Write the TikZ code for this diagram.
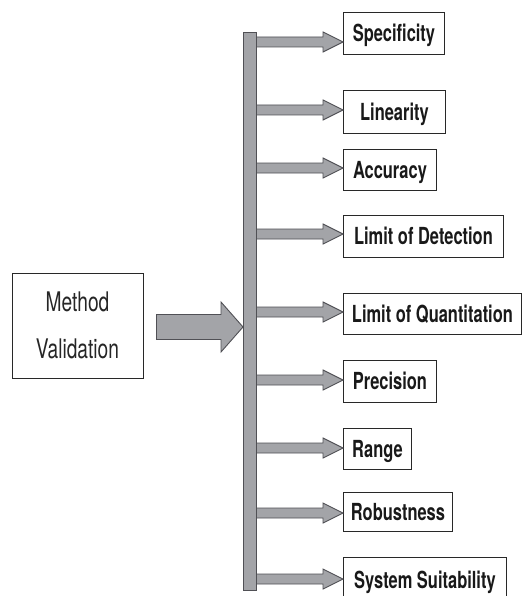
\documentclass[tikz,border=0pt]{standalone}
\usepackage{fontspec}
\setmainfont{TeX Gyre Heros}
\newfontfamily\condfont[FakeStretch=0.70]{TeX Gyre Heros}
\newfontfamily\condreg[FakeStretch=0.71]{TeX Gyre Heros}
\usetikzlibrary{calc}
\definecolor{arrfill}{RGB}{163,164,168}
\definecolor{arrline}{RGB}{80,80,85}
\definecolor{boxline}{RGB}{40,40,40}
\begin{document}
\begin{tikzpicture}[x=1pt,y=-1pt,
  itembox/.style={draw=boxline, line width=0.9pt, fill=white, anchor=north west,
    inner sep=0pt, text height=17pt, text depth=0pt,
    font=\condfont\bfseries\fontsize{23.5}{25}\selectfont, text=black!90},
  mainbox/.style={draw=boxline, line width=0.9pt, fill=white, inner sep=0pt,
    minimum width=131pt, minimum height=105pt, align=center,
    font=\condreg\fontsize{27}{47}\selectfont, text=black!85},
  barstyle/.style={draw=arrline, line width=0.9pt, fill=arrfill, inner sep=0pt},
  arrstyle/.style={draw=arrline, line width=0.9pt, fill=arrfill, line join=miter},
  blockarrow/.style n args={3}{to path={let \p1=(\tikztostart), \p2=(\tikztotarget) in
    (\x1,\y2+#1) -- (\x2-#3,\y2+#1) -- (\x2-#3,\y2+#2) -- (\x2,\y2)
    -- (\x2-#3,\y2-#2) -- (\x2-#3,\y2-#1) -- (\x1,\y2-#1) -- cycle}}
]
\useasboundingbox (0,0) rectangle (523,596);

% main box
\node[mainbox] (mv) at (77.5,325.5) {Method\\Validation};

% item boxes
\node[itembox, minimum width=101pt, minimum height=42pt] (b1) at (343,12) {Specificity};
\node[itembox, minimum width=102pt, minimum height=43pt] (b2) at (343,90) {Linearity};
\node[itembox, minimum width=93pt,  minimum height=41pt] (b3) at (343,149) {Accuracy};
\node[itembox, minimum width=160pt, minimum height=42pt] (b4) at (343,215) {Limit of Detection};
\node[itembox, minimum width=178pt, minimum height=41pt] (b5) at (343,293) {Limit of Quantitation};
\node[itembox, minimum width=93pt,  minimum height=42pt] (b6) at (343,360) {Precision};
\node[itembox, minimum width=68pt,  minimum height=41pt] (b7) at (343,428) {Range};
\node[itembox, minimum width=109pt, minimum height=39pt] (b8) at (343,492) {Robustness};
\node[itembox, minimum width=163pt, minimum height=45pt] (b9) at (343,557) {System Suitability};

% vertical bar
\node[barstyle, minimum width=13pt, minimum height=558pt] (bar) at (249.5,311) {};

% arrow end points
\coordinate (s0) at ([xshift=13pt]mv.east);
\coordinate (t0) at (243,327);
\coordinate (t1) at (343,42);
\coordinate (t2) at (343,110);
\coordinate (t3) at (343,168);
\coordinate (t4) at (343,234);
\coordinate (t5) at (343,312);
\coordinate (t6) at (343,380);
\coordinate (t7) at (343,448);
\coordinate (t8) at (343,513);
\coordinate (t9) at (343,579);

% big arrow
\draw[arrstyle] (s0) to[blockarrow={12.5pt}{25pt}{22pt}] (t0);

% small arrows
\foreach \t in {t1,t2,t3,t4,t5,t6,t7,t8,t9}{
  \draw[arrstyle] (bar.east) to[blockarrow={5pt}{10pt}{20pt}] (\t);
}

% redraw bar outline on top
\node[barstyle, minimum width=13pt, minimum height=558pt] (bar2) at (249.5,311) {};
\end{tikzpicture}
\end{document}
